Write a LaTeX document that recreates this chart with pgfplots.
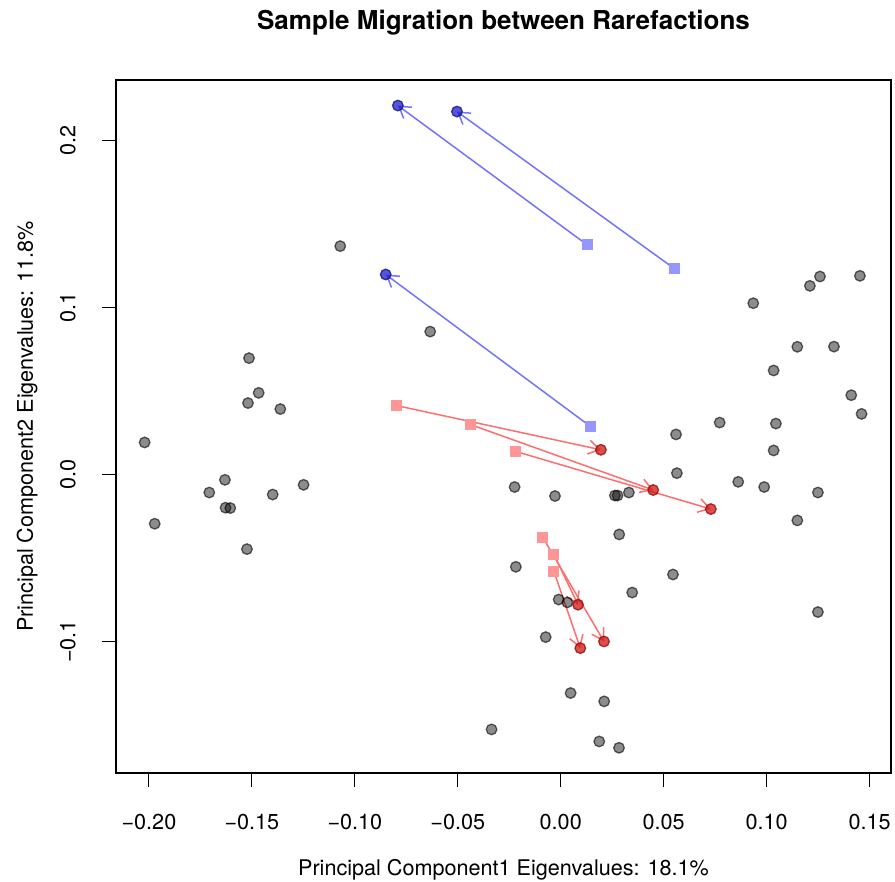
\documentclass[border=0pt]{standalone}
\usepackage{fontspec}
\setmainfont{TeX Gyre Heros}
\usepackage{pgfplots}
\pgfplotsset{compat=1.18}
\usepackage{pgfplotstable}
\usetikzlibrary{arrows.meta}
\definecolor{bluecirc}{RGB}{30,30,200}
\definecolor{redcirc}{RGB}{210,20,20}
\definecolor{bluesq}{RGB}{150,150,255}
\definecolor{redsq}{RGB}{255,150,150}
\definecolor{blueln}{RGB}{115,115,255}
\definecolor{redln}{RGB}{255,110,110}

\pgfplotstableread{
x y
-0.1071 0.1368
-0.0634 0.0856
-0.1514 0.0697
-0.1467 0.0489
-0.1519 0.0428
-0.1362 0.0392
0.1259 0.1186
0.1453 0.1190
0.1210 0.1130
0.0935 0.1026
0.1149 0.0765
0.1327 0.0766
0.1034 0.0623
0.1411 0.0475
0.1461 0.0363
0.0772 0.0311
0.1045 0.0305
0.0560 0.0240
-0.2021 0.0192
-0.1631 -0.0032
-0.1707 -0.0108
-0.1399 -0.0120
-0.1249 -0.0062
-0.1628 -0.0199
-0.1605 -0.0201
-0.1972 -0.0295
-0.1524 -0.0447
-0.0336 -0.1527
-0.0224 -0.0075
-0.0218 -0.0553
0.1034 0.0144
0.0564 0.0008
0.0862 -0.0044
0.0988 -0.0075
0.1249 -0.0108
-0.0028 -0.0129
0.0263 -0.0126
0.0276 -0.0126
0.0331 -0.0108
0.1149 -0.0275
0.0284 -0.0359
0.0545 -0.0599
0.0347 -0.0707
-0.0010 -0.0749
0.0032 -0.0766
0.1249 -0.0824
-0.0073 -0.0974
0.0048 -0.1309
0.0211 -0.1359
0.0187 -0.1599
0.0283 -0.1637
}\graypts

\pgfplotstableread{
x y
0.0129 0.1375
0.0553 0.1232
0.0145 0.0287
}\bluesq

\pgfplotstableread{
x y
-0.0791 0.2210
-0.0504 0.2174
-0.0850 0.1198
}\bluecirc

\pgfplotstableread{
x y
-0.0798 0.0413
-0.0436 0.0298
-0.0218 0.0138
-0.0088 -0.0375
-0.0033 -0.0479
-0.0033 -0.0581
}\redsq

\pgfplotstableread{
x y
0.0195 0.0148
0.0449 -0.0093
0.0729 -0.0207
0.0084 -0.0780
0.0210 -0.1000
0.0095 -0.1040
}\redcirc

\begin{document}
\begin{tikzpicture}
\path[use as bounding box] (-116bp,-109bp) rectangle (779bp,773bp);
\begin{axis}[
  scale only axis, width=775bp, height=693bp,
  xmin=-0.2160, xmax=0.1604, ymin=-0.1788, ymax=0.2363,
  axis line style={line width=1.1bp},
  tick align=outside, tick pos=left,
  major tick length=14bp,
  every tick/.style={black, line width=1.1bp},
  xtick={-0.2,-0.15,-0.1,-0.05,0,0.05,0.1,0.15},
  xticklabels={−0.20,−0.15,−0.10,−0.05,0.00,0.05,0.10,0.15},
  ytick={-0.1,0,0.1,0.2},
  yticklabels={−0.1,0.0,0.1,0.2},
  tick label style={font=\fontsize{21.6bp}{26bp}\selectfont},
  xticklabel style={anchor=north, inner sep=0pt, yshift=-27bp},
  yticklabel style={xshift=-26bp, rotate=90, anchor=south, inner sep=0pt},
  title={Sample Migration between Rarefactions},
  title style={font=\fontsize{26bp}{31bp}\selectfont\bfseries, at={(axis description cs:0.5,1.0649)}, anchor=base, inner sep=0pt},
  xlabel={Principal Component1 Eigenvalues: 18.1\%},
  xlabel style={font=\fontsize{21.6bp}{26bp}\selectfont, at={(axis description cs:0.5,-0.1486)}, anchor=base, inner sep=0pt},
  ylabel={Principal Component2 Eigenvalues: 11.8\%},
  ylabel style={font=\fontsize{21.6bp}{26bp}\selectfont, at={(axis description cs:-0.1071,0.5)}, rotate=0, anchor=base, inner sep=0pt},
]
\addplot[only marks, mark=*, mark size=5.3bp, mark options={line width=1.3bp, draw=black, fill=black, fill opacity=0.45, draw opacity=0.6}] table {\graypts};
\addplot[only marks, bluesq, mark=square*, mark size=5bp, mark options={line width=0pt, draw=bluesq, fill=bluesq}] table {\bluesq};
\addplot[only marks, redsq, mark=square*, mark size=5bp, mark options={line width=0pt, draw=redsq, fill=redsq}] table {\redsq};
\addplot[only marks, mark=*, mark size=5.3bp, mark options={line width=1.3bp, draw=bluecirc!70!black, fill=bluecirc, fill opacity=0.75, draw opacity=0.8}] table {\bluecirc};
\addplot[only marks, mark=*, mark size=5.3bp, mark options={line width=1.3bp, draw=redcirc!70!black, fill=redcirc, fill opacity=0.75, draw opacity=0.8}] table {\redcirc};
% blue arrows
\addplot[blueln, line width=1.5bp, -{Straight Barb[length=11bp,width=14bp]}] coordinates {(0.0129,0.1375) (-0.0791,0.2210)};
\addplot[blueln, line width=1.5bp, -{Straight Barb[length=11bp,width=14bp]}] coordinates {(0.0553,0.1232) (-0.0504,0.2174)};
\addplot[blueln, line width=1.5bp, -{Straight Barb[length=11bp,width=14bp]}] coordinates {(0.0145,0.0287) (-0.0850,0.1198)};
% red arrows
\addplot[redln, line width=1.5bp, -{Straight Barb[length=11bp,width=14bp]}] coordinates {(-0.0798,0.0413) (0.0195,0.0148)};
\addplot[redln, line width=1.5bp, -{Straight Barb[length=11bp,width=14bp]}] coordinates {(-0.0436,0.0298) (0.0449,-0.0093)};
\addplot[redln, line width=1.5bp, -{Straight Barb[length=11bp,width=14bp]}] coordinates {(-0.0218,0.0138) (0.0729,-0.0207)};
\addplot[redln, line width=1.5bp, -{Straight Barb[length=11bp,width=14bp]}] coordinates {(-0.0088,-0.0375) (0.0210,-0.1000)};
\addplot[redln, line width=1.5bp, -{Straight Barb[length=11bp,width=14bp]}] coordinates {(-0.0033,-0.0479) (0.0084,-0.0780)};
\addplot[redln, line width=1.5bp, -{Straight Barb[length=11bp,width=14bp]}] coordinates {(-0.0033,-0.0581) (0.0095,-0.1040)};
\end{axis}
\end{tikzpicture}
\end{document}
